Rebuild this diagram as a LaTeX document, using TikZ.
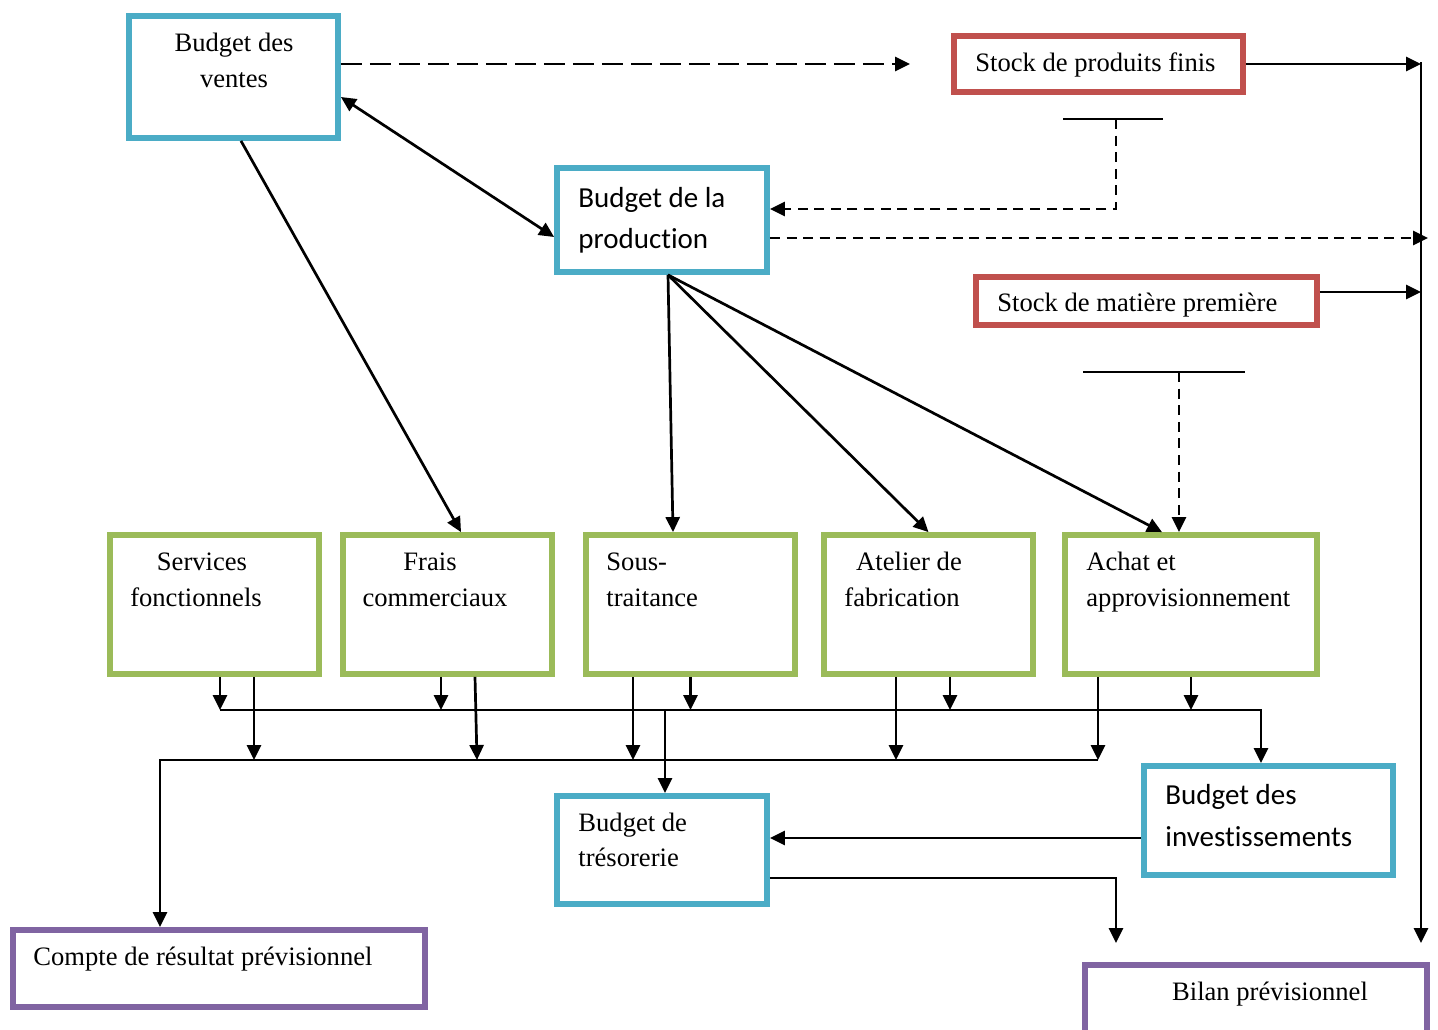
\documentclass[tikz,border=0pt]{standalone}
\usepackage{fontspec}
\setmainfont{Liberation Serif}
\newfontfamily\carlito[Ligatures=NoCommon]{Carlito}
\usetikzlibrary{arrows.meta,fit}
\definecolor{boxblue}{HTML}{4BACC6}
\definecolor{boxred}{HTML}{C0504D}
\definecolor{boxgreen}{HTML}{9BBB59}
\definecolor{boxpurple}{HTML}{8064A2}
\begin{document}
\begin{tikzpicture}[x=0.5pt,y=-0.5pt,
  box/.style={draw, line width=2.9pt, inner sep=0pt},
  bluebox/.style={box, draw=boxblue},
  redbox/.style={box, draw=boxred},
  greenbox/.style={box, draw=boxgreen},
  purplebox/.style={box, draw=boxpurple},
  tip/.tip={Triangle[width=7pt,length=7.5pt]},
  arr/.style={line width=1.35pt, -tip},
  darr/.style={arr, dash pattern=on 5pt off 3.3pt},
  ldarr/.style={arr, dash pattern=on 10.5pt off 4pt},
  bar/.style={line width=1pt},
  lbl/.style={font=\fontsize{13.3}{16}\selectfont, inner sep=0pt},
  clbl/.style={font=\carlito\fontsize{14.5}{17}\selectfont, inner sep=0pt},
]
\useasboundingbox (0,0) rectangle (1438,1029);
\clip (0,0) rectangle (1438,1029);

% ---- boxes ----
\node[bluebox, fit={(129,16) (338,138)}] (ventes) {};
\node[redbox, fit={(954,36) (1243,92)}] (spf) {};
\node[bluebox, fit={(557,168) (767,272)}] (prod) {};
\node[redbox, fit={(976,277) (1317,325)}] (smp) {};
\node[greenbox, fit={(110,535) (319,674)}] (serv) {};
\node[greenbox, fit={(343,535) (552,674)}] (frais) {};
\node[greenbox, fit={(586,535) (795,674)}] (sous) {};
\node[greenbox, fit={(824,535) (1033,674)}] (atel) {};
\node[greenbox, fit={(1065,535) (1317,674)}] (achat) {};
\node[bluebox, fit={(557,796) (767,904)}] (treso) {};
\node[bluebox, fit={(1144,766) (1393,875)}] (invest) {};
\node[purplebox, fit={(13,930) (425,1007)}] (compte) {};
\node[purplebox, fit={(1085,965) (1427,1060)}] (bilan) {};

% ---- box texts ----
\node[lbl, anchor=mid] (ventes-a) at (234,47) {Budget des};
\node[lbl, anchor=mid] (ventes-b) at (234,83) {ventes};
\node[lbl, anchor=mid west] (spf-a) at (975,67) {Stock de produits finis};
\node[clbl, anchor=mid west] (prod-a) at (578,203) {Budget de la};
\node[clbl, anchor=mid west] (prod-b) at (578,244) {production};
\node[lbl, anchor=mid west] (smp-a) at (997,307) {Stock de matière première};
\node[lbl, anchor=mid] (serv-a) at (202,566) {Services};
\node[lbl, anchor=mid] (serv-b) at (196,602) {fonctionnels};
\node[lbl, anchor=mid] (frais-a) at (430,566) {Frais};
\node[lbl, anchor=mid] (frais-b) at (435,602) {commerciaux};
\node[lbl, anchor=mid west] (sous-a) at (606,566) {Sous-};
\node[lbl, anchor=mid west] (sous-b) at (606,602) {traitance};
\node[lbl, anchor=mid] (atel-a) at (909,566) {Atelier de};
\node[lbl, anchor=mid] (atel-b) at (902,602) {fabrication};
\node[lbl, anchor=mid west] (achat-a) at (1086,566) {Achat et};
\node[lbl, anchor=mid west] (achat-b) at (1086,602) {approvisionnement};
\node[lbl, anchor=mid west] (treso-a) at (578,827) {Budget de};
\node[lbl, anchor=mid west] (treso-b) at (578,862) {trésorerie};
\node[clbl, anchor=mid west] (invest-a) at (1165,800) {Budget des};
\node[clbl, anchor=mid west] (invest-b) at (1165,842) {investissements};
\node[lbl, anchor=mid west] (compte-a) at (33,961) {Compte de résultat prévisionnel};
\node[lbl, anchor=mid] (bilan-a) at (1270,996) {Bilan prévisionnel};

% ---- free ends and junctions ----
\coordinate (spfin) at (910,64);
\coordinate (railtop) at (1421,62);
\coordinate (railbot) at (1421,943);
\coordinate (prodout) at (1428,238);
\coordinate (tA1) at (1063,119);
\coordinate (tA2) at (1163,119);
\coordinate (tAm) at (1116,119);
\coordinate (tB1) at (1083,372);
\coordinate (tB2) at (1245,372);
\coordinate (tBm) at (1179,372);
\coordinate (bus1w) at (220,710);
\coordinate (bus2e) at (1098,760);
\coordinate (bilanin) at (1116,943);

% ---- top part ----
\draw[ldarr] (ventes.east |- spf.west) -- (spfin);
\draw[arr] (spf.east) -- (spf.east -| railtop);
\draw[arr] (railtop) -- (railbot);
\draw[arr, tip-tip] ([yshift=-10pt]ventes.east) -- ([yshift=-8.5pt]prod.west);
\draw[bar] (tA1) -- (tA2);
\draw[darr] (tAm) |- ([yshift=5.5pt]prod.east);
\draw[darr] ([yshift=-9pt]prod.east) -- (prodout);
\draw[arr] ([yshift=4.5pt]smp.east) coordinate (smpout) -- (smpout -| railtop);
\draw[bar] (tB1) -- (tB2);
\draw[darr] (tBm) -- (tBm |- achat.north);

% ---- budgets feeding the operating departments ----
\draw[arr] ([xshift=3.75pt]ventes.south) -- ([xshift=6.75pt]frais.north);
\coordinate (prodfoot) at ([xshift=3pt]prod.south);
\draw[arr] (prodfoot) -- ([xshift=-8.75pt]sous.north);
\draw[arr] (prodfoot) -- (atel.north);
\draw[arr] (prodfoot) -- ([xshift=-14.5pt]achat.north);

% ---- collecting lines ----
\draw[arr] (bus2e) -| ([xshift=-29.5pt]compte.north);
\draw[arr] (bus1w) -| ([xshift=-3.75pt]invest.north);

% short arrows to the upper line
\draw[arr] ([xshift=2.75pt]serv.south) -- ([xshift=2.75pt]serv.south |- bus1w);
\draw[arr] ([xshift=-3.25pt]frais.south) -- ([xshift=-3.25pt]frais.south |- bus1w);
\draw[arr] (sous.south) -- (sous.south |- bus1w);
\draw[arr] ([xshift=10.75pt]atel.south) -- ([xshift=10.75pt]atel.south |- bus1w);
\draw[arr] (achat.south) -- (achat.south |- bus1w);

% long arrows to the lower line
\draw[arr] ([xshift=19.75pt]serv.south) -- ([xshift=19.75pt]serv.south |- bus2e);
\draw[arr] ([xshift=13.75pt]frais.south) -- ([xshift=14.75pt]frais.south |- bus2e);
\draw[arr] ([xshift=-28.75pt]sous.south) -- ([xshift=-28.75pt]sous.south |- bus2e);
\draw[arr] ([xshift=-16.25pt]atel.south) -- ([xshift=-16.25pt]atel.south |- bus2e);
\draw[arr] ([xshift=-46.5pt]achat.south) -- ([xshift=-46.5pt]achat.south |- bus2e);

% ---- treasury and balance sheet ----
\draw[arr] ([xshift=1.5pt]treso.north |- bus1w) -- ([xshift=1.5pt]treso.north);
\draw[arr] ([yshift=-8.75pt]invest.west) coordinate (invout) -- (invout -| treso.east);
\draw[arr] ([yshift=-14pt]treso.east) -| (bilanin);
\end{tikzpicture}
\end{document}
